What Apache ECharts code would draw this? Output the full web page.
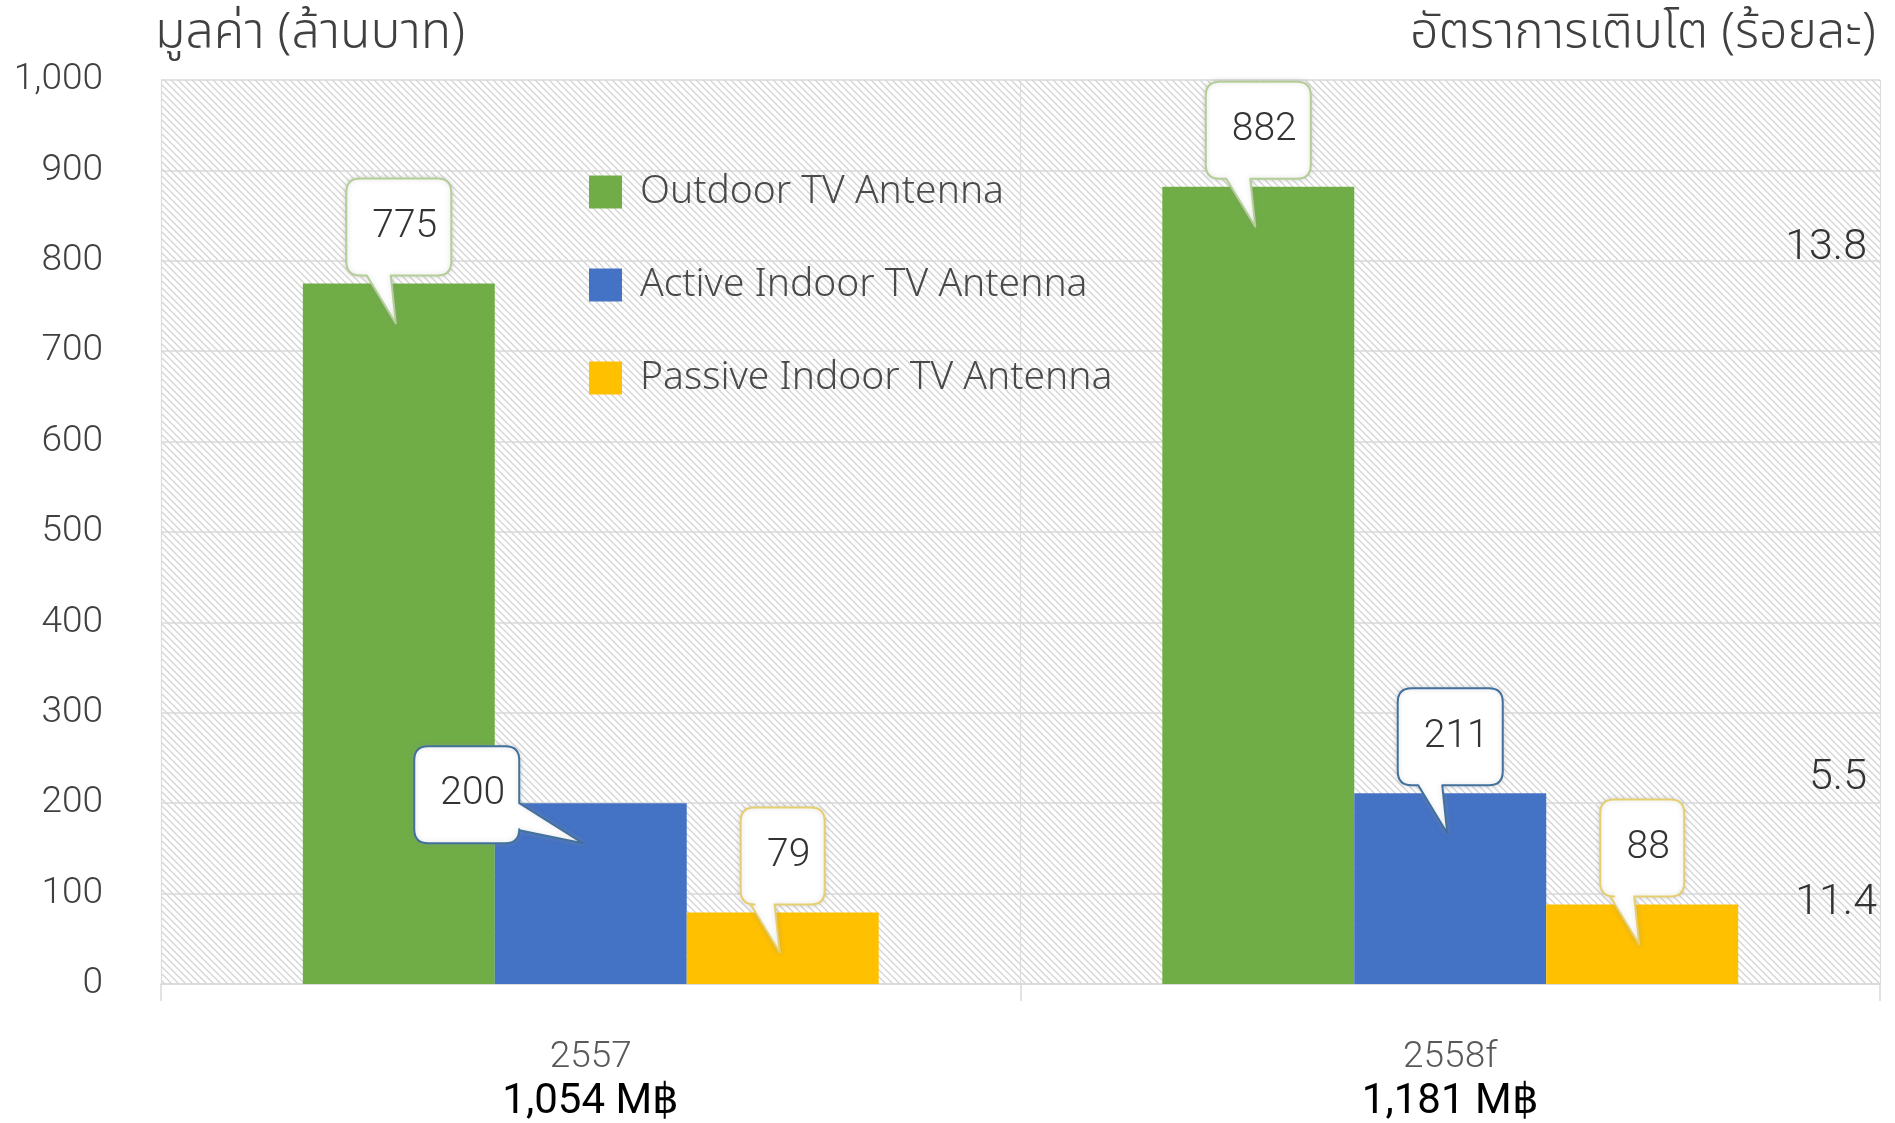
<!DOCTYPE html>
<html><head><meta charset="utf-8">
<script src="https://cdn.jsdelivr.net/npm/echarts@6/dist/echarts.min.js"></script>
<style>html,body{margin:0;padding:0;background:#fff}#c{width:1895px;height:1123px}</style>
</head><body><div id="c"></div>
<script>
// ---- data ----
const categories = ['2557', '2558f'];
const seriesNames = ['Outdoor TV Antenna', 'Active Indoor TV Antenna', 'Passive Indoor TV Antenna'];
const outdoor = [775, 882];
const activeIndoor = [200, 211];
const passiveIndoor = [79, 88];
const growthRates = [13.8, 5.5, 11.4];
const leftTitle = 'มูลค่า (ล้านบาท)';
const rightTitle = 'อัตราการเติบโต (ร้อยละ)';

// ---- styles ----
const barColors = ['#70AD47', '#4472C4', '#FFC000'];
const calloutBorders = ['#B3CF97', '#41719C', '#E6CF70'];
const GAP = 0.33;
const calloutLayout = { '1-0': { dx: -124, side: 'right' } };
const growthPos = [[1867, 248], [1867, 778], [1877, 903]];
const thaiFont = "'Noto Sans Thai', 'Noto Sans', sans-serif";

const values = [outdoor, activeIndoor, passiveIndoor];
const totals = categories.map((c, i) => values.reduce((s, arr) => s + arr[i], 0));

function hatch() {
  const n = 7;
  const cv = document.createElement('canvas');
  cv.width = n; cv.height = n;
  const ctx = cv.getContext('2d');
  ctx.fillStyle = '#ffffff'; ctx.fillRect(0, 0, n, n);
  ctx.strokeStyle = '#d4d4d4'; ctx.lineWidth = 1.3;
  ctx.beginPath();
  ctx.moveTo(-1, -1); ctx.lineTo(n + 1, n + 1);
  ctx.moveTo(-1, n - 1); ctx.lineTo(1, n + 1);
  ctx.moveTo(n - 1, -1); ctx.lineTo(n + 1, 1);
  ctx.stroke();
  return cv;
}

function renderCallout(params, api) {
  const c = api.value(0), v = api.value(1), s = api.value(2);
  const p = api.coord([c, v]);
  const band = api.size([1, 0])[0];
  const barW = band * (1 - GAP) / 3;
  const cx = p[0] + (s - 1) * barW;
  const top = p[1];
  const label = String(v);
  const w = 42 + label.length * 21, h = 97, r = 14;
  const lay = calloutLayout[s + '-' + c];
  let d, bx, by;
  if (lay && lay.side === 'right') {
    const bcx = cx + lay.dx;
    const x0 = bcx - w / 2, x1 = bcx + w / 2;
    const y1 = top + 40, y0 = y1 - h;
    const tipX = cx - 8, tipY = top + 40;
    d = `M${x0 + r},${y0} L${x1 - r},${y0} Q${x1},${y0} ${x1},${y0 + r} L${x1},${top} L${tipX},${tipY} L${x1},${top + 27} L${x1},${y1 - r} Q${x1},${y1} ${x1 - r},${y1} L${x0 + r},${y1} Q${x0},${y1} ${x0},${y1 - r} L${x0},${y0 + r} Q${x0},${y0} ${x0 + r},${y0} Z`;
    bx = bcx; by = (y0 + y1) / 2;
  } else {
    const x0 = cx - w / 2, x1 = cx + w / 2;
    const y1 = top - 8, y0 = y1 - h;
    d = `M${x0 + r},${y0} L${x1 - r},${y0} Q${x1},${y0} ${x1},${y0 + r} L${x1},${y1 - r} Q${x1},${y1} ${x1 - r},${y1} L${cx - 8},${y1} L${cx - 3},${top + 40} L${cx - 32},${y1} L${x0 + r},${y1} Q${x0},${y1} ${x0},${y1 - r} L${x0},${y0 + r} Q${x0},${y0} ${x0 + r},${y0} Z`;
    bx = cx; by = (y0 + y1) / 2;
  }
  return {
    type: 'group',
    children: [
      { type: 'path', shape: { pathData: d },
        style: { fill: '#ffffff', stroke: calloutBorders[s], lineWidth: 2, lineJoin: 'round',
                 shadowBlur: 5, shadowColor: 'rgba(150,150,150,0.35)' } },
      { type: 'text', x: bx + 6, y: by,
        style: { text: label, fill: '#333333', fontSize: 39, fontWeight: 300, fontFamily: 'Roboto', align: 'center', verticalAlign: 'middle' } }
    ]
  };
}

const calloutData = [];
values.forEach((arr, s) => arr.forEach((v, c) => calloutData.push([c, v, s])));

const chart = echarts.init(document.getElementById('c'), null, { renderer: 'canvas' });
chart.setOption({
  backgroundColor: '#ffffff',
  animation: false,
  title: [
    { text: leftTitle, left: 150, top: 8, textStyle: { fontSize: 50, fontWeight: 300, color: '#404040', fontFamily: thaiFont } },
    { text: rightTitle, right: 14, top: 8, textStyle: { fontSize: 50, fontWeight: 300, color: '#404040', fontFamily: thaiFont } }
  ],
  legend: {
    orient: 'vertical', left: 584, top: 166,
    itemWidth: 33, itemHeight: 33, itemGap: 51, icon: 'rect',
    data: seriesNames,
    textStyle: { fontSize: 39, lineHeight: 42, fontWeight: 300, color: '#4a4a4a', fontFamily: 'Noto Sans', padding: [0, 0, 0, 13] }
  },
  grid: { left: 161, right: 15, top: 80, bottom: 137, show: true, borderWidth: 0,
          backgroundColor: { image: hatch(), repeat: 'repeat' } },
  xAxis: {
    type: 'category', data: categories,
    axisLine: { lineStyle: { color: '#d9d9d9', width: 1.5 } },
    axisTick: { show: true, length: 17, lineStyle: { color: '#d9d9d9', width: 1.5 } },
    splitLine: { show: true, lineStyle: { color: '#dcdcdc', width: 1.2 } },
    axisLabel: {
      margin: 52,
      formatter: (val, i) => '{a|' + val + '}\n{b|' + totals[i].toLocaleString('en-US') + ' M฿}',
      rich: {
        a: { fontSize: 37, lineHeight: 44, fontWeight: 300, color: '#595959', fontFamily: 'Roboto' },
        b: { fontSize: 42, lineHeight: 44, color: '#000000', fontFamily: 'Roboto' }
      }
    }
  },
  yAxis: {
    type: 'value', min: 0, max: 1000, interval: 100,
    axisLine: { show: false }, axisTick: { show: false },
    splitLine: { lineStyle: { color: '#d9d9d9', width: 1.5 } },
    axisLabel: { margin: 58, fontSize: 37, fontWeight: 300, color: '#404040', fontFamily: 'Roboto',
                 formatter: v => v.toLocaleString('en-US') }
  },
  graphic: growthRates.map((g, i) => ({
    type: 'text', x: growthPos[i][0], y: growthPos[i][1], z: 100,
    style: { text: g.toFixed(1), fontSize: 43, fontWeight: 300, fill: '#333333', fontFamily: 'Roboto', align: 'right', verticalAlign: 'middle' }
  })),
  series: [
    ...seriesNames.map((name, s) => ({
      name, type: 'bar', data: values[s], barGap: '0%', barCategoryGap: (GAP * 100) + '%',
      itemStyle: { color: barColors[s] }
    })),
    { type: 'custom', renderItem: renderCallout, data: calloutData, z: 10, silent: true }
  ]
});
</script></body></html>
